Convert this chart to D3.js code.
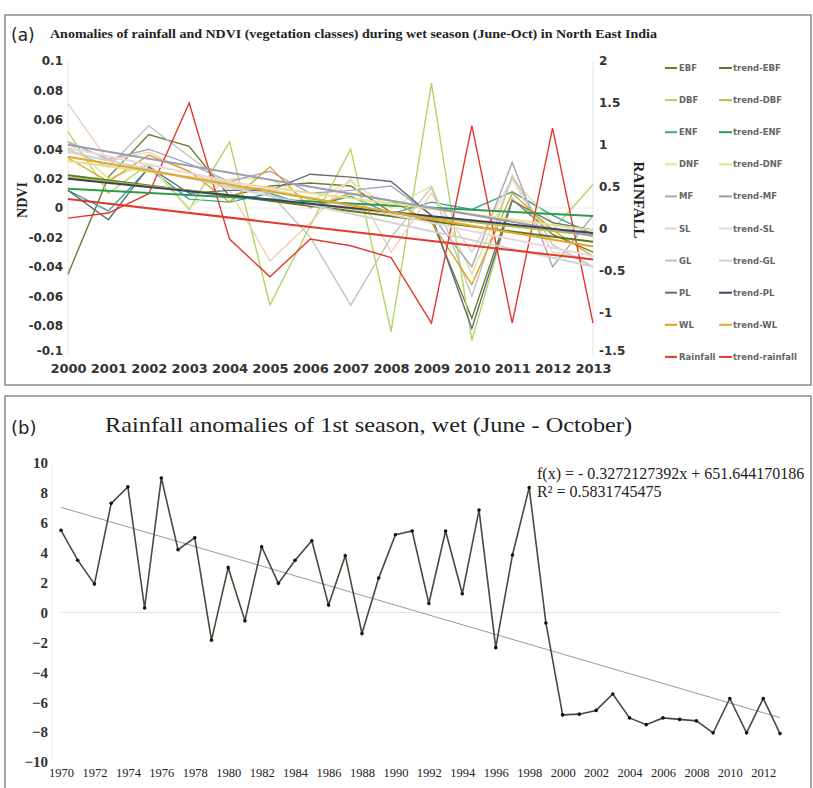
<!DOCTYPE html>
<html>
<head>
<meta charset="utf-8">
<script src="https://cdn.jsdelivr.net/npm/d3@7"></script>
<style>
  html, body { margin: 0; padding: 0; background: #fff; }
  svg { display: block; }
</style>
</head>
<body>
<svg id="chart" width="813" height="788"></svg>
<script>
// ---------- Panel (a) data ----------
const yearsA = [2000,2001,2002,2003,2004,2005,2006,2007,2008,2009,2010,2011,2012,2013];
const classNames = ["EBF","DBF","ENF","DNF","MF","SL","GL","PL","WL"];
const EBF = [-0.045, 0.021, 0.050, 0.042, 0.008, 0.015, 0.017, 0.015, -0.003, -0.008, -0.075, 0.006, -0.018, -0.030];
const DBF = [0.052, 0.010, 0.030, -0.001, 0.045, -0.066, -0.012, 0.040, -0.084, 0.085, -0.090, 0.006, -0.015, 0.016];
const ENF = [0.012, -0.002, 0.027, 0.006, 0.004, 0.010, 0.001, 0.008, -0.004, 0.004, -0.001, 0.011, -0.005, -0.018];
const DNF = [0.045, 0.020, 0.030, 0.000, 0.020, 0.020, 0.005, 0.018, 0.000, 0.015, -0.045, 0.020, -0.010, -0.020];
const MF  = [0.045, 0.033, 0.040, 0.030, 0.018, 0.025, 0.010, 0.012, 0.015, -0.005, -0.040, 0.031, -0.040, -0.005];
const SL  = [0.071, 0.032, 0.038, 0.025, 0.012, -0.036, -0.010, 0.020, -0.030, 0.010, -0.030, 0.020, -0.030, -0.035];
const GL  = [0.040, 0.028, 0.056, 0.035, 0.015, 0.010, -0.020, -0.066, -0.020, 0.014, -0.060, 0.022, -0.025, -0.040];
const PL  = [0.012, -0.008, 0.028, 0.010, 0.012, 0.012, 0.023, 0.021, 0.018, -0.005, -0.082, 0.005, -0.010, -0.015];
const WL  = [0.034, 0.018, 0.036, 0.025, 0.004, 0.028, 0.000, 0.010, 0.005, -0.010, -0.052, 0.010, -0.015, -0.033];
const Rainfall = [0.13, 0.19, 0.42, 1.50, -0.12, -0.57, -0.12, -0.20, -0.34, -1.12, 1.23, -1.12, 1.20, -1.12];
const ndviTicks = [0.1,0.08,0.06,0.04,0.02,0,-0.02,-0.04,-0.06,-0.08,-0.1];
const ndviTickLabels = ["0.1","0.08","0.06","0.04","0.02","0","-0.02","-0.04","-0.06","-0.08","-0.1"];
const rainTicks = [2,1.5,1,0.5,0,-0.5,-1,-1.5];
const rainTickLabels = ["2","1.5","1","0.5","0","-0.5","-1","-1.5"];

// ---------- Panel (b) data ----------
const yearsB = d3.range(1970, 2014);
const rainAnom = [5.5, 3.5, 1.9, 7.3, 8.4, 0.3, 9.0, 4.2, 5.0, -1.85, 3.0, -0.55, 4.4, 1.95,
  3.5, 4.8, 0.5, 3.8, -1.4, 2.3, 5.2, 5.45, 0.6, 5.45, 1.25, 6.85, -2.35, 3.85, 8.35, -0.7,
  -6.85, -6.8, -6.55, -5.45, -7.05, -7.5, -7.05, -7.15, -7.25, -8.05, -5.75, -8.05, -5.75, -8.1];
const fitSlope = -0.3272127392, fitIntercept = 651.644170186;
const bYTicks = [10,8,6,4,2,0,-2,-4,-6,-8,-10];
const bXTicks = d3.range(1970, 2013, 2);

const svg = d3.select("#chart");

// panel borders
svg.append("rect").attr("x",5).attr("y",15).attr("width",806).attr("height",370)
  .attr("fill","#fff").attr("stroke","#8a8a8a").attr("stroke-width",1.5);
svg.append("rect").attr("x",5).attr("y",396).attr("width",806).attr("height",400)
  .attr("fill","#fff").attr("stroke","#8a8a8a").attr("stroke-width",1.5);

// ================= Panel (a) =================
const xA = d3.scaleLinear().domain([2000,2013]).range([68,593]);
const yA = d3.scaleLinear().domain([-0.1,0.1]).range([355,61]);
const yR = d3.scaleLinear().domain([-1.5,2]).range([355,61]);

svg.append("text").attr("x",11).attr("y",41).attr("font-family","DejaVu Sans, sans-serif")
  .attr("font-size",17).attr("fill","#222").text("(a)");
svg.append("text").attr("x",50).attr("y",38).attr("font-family","Liberation Serif, serif")
  .attr("font-weight","bold").attr("font-size",12.5).attr("fill","#222")
  .attr("textLength",607).attr("lengthAdjust","spacingAndGlyphs")
  .text("Anomalies of rainfall and NDVI (vegetation classes) during wet season (June-Oct) in North East India");

const gA = svg.append("g");
gA.append("line").attr("x1",xA(2000)).attr("x2",xA(2000)).attr("y1",yA(0.1)).attr("y2",yA(-0.1))
  .attr("stroke","#e4e4e4").attr("stroke-width",1);
gA.append("line").attr("x1",xA(2013)).attr("x2",xA(2013)).attr("y1",yA(0.1)).attr("y2",yA(-0.1))
  .attr("stroke","#e4e4e4").attr("stroke-width",1);
gA.append("line").attr("x1",xA(2000)).attr("x2",xA(2013)).attr("y1",yA(0)).attr("y2",yA(0))
  .attr("stroke","#ececec").attr("stroke-width",1);

const leftAxis = d3.axisLeft(yA).tickValues(ndviTicks).tickSize(0).tickPadding(5)
  .tickFormat((d,i) => ndviTickLabels[i]);
const gl = gA.append("g").attr("transform",`translate(${xA(2000)},0)`).call(leftAxis);
gl.select(".domain").remove();
gl.selectAll("text").attr("font-family","DejaVu Sans, sans-serif").attr("font-weight","bold")
  .attr("font-size",12).attr("fill","#333");
gl.selectAll(".tick").filter(d => d === -0.1).select("text").attr("dy","-0.05em");
const rightAxis = d3.axisRight(yR).tickValues(rainTicks).tickSize(0).tickPadding(6)
  .tickFormat((d,i) => rainTickLabels[i]);
const gr = gA.append("g").attr("transform",`translate(${xA(2013)},0)`).call(rightAxis);
gr.select(".domain").remove();
gr.selectAll("text").attr("font-family","DejaVu Sans, sans-serif").attr("font-weight","bold")
  .attr("font-size",12).attr("fill","#333");
gr.selectAll(".tick").filter(d => d === -1.5).select("text").attr("dy","-0.05em");
const botAxis = d3.axisBottom(xA).tickValues(yearsA).tickSize(0).tickPadding(9).tickFormat(d3.format("d"));
const gb = gA.append("g").attr("transform",`translate(0,${yA(-0.1)})`).call(botAxis);
gb.select(".domain").remove();
gb.selectAll("text").attr("font-family","DejaVu Sans, sans-serif").attr("font-weight","bold")
  .attr("font-size",13).attr("fill","#333");

svg.append("text").attr("transform",`translate(27,${yA(0)-8}) rotate(-90)`).attr("text-anchor","middle")
  .attr("font-family","Liberation Serif, serif").attr("font-weight","bold").attr("font-size",14)
  .attr("fill","#222").text("NDVI");
svg.append("text").attr("transform",`translate(634,200) rotate(90)`).attr("text-anchor","middle")
  .attr("font-family","Liberation Serif, serif").attr("font-weight","bold").attr("font-size",15)
  .attr("fill","#222").text("RAINFALL");

const series = [
  {name:"EBF", vals:EBF, color:"#6b7d33", tcolor:"#5a7a22", scale:yA},
  {name:"DBF", vals:DBF, color:"#b2d466", tcolor:"#b9bf45", scale:yA},
  {name:"ENF", vals:ENF, color:"#3aa39c", tcolor:"#2f9a4e", scale:yA},
  {name:"DNF", vals:DNF, color:"#dbe79a", tcolor:"#e6e08c", scale:yA},
  {name:"MF",  vals:MF,  color:"#a8a4c0", tcolor:"#9c9cb2", scale:yA},
  {name:"SL",  vals:SL,  color:"#f2cfb4", tcolor:"#e8d8d8", scale:yA},
  {name:"GL",  vals:GL,  color:"#c2c2c2", tcolor:"#d2d2d2", scale:yA},
  {name:"PL",  vals:PL,  color:"#646b7d", tcolor:"#3b4262", scale:yA},
  {name:"WL",  vals:WL,  color:"#d9a420", tcolor:"#e2a82a", scale:yA},
  {name:"Rainfall", vals:Rainfall, color:"#e0392d", tcolor:"#e03a2c", scale:yR}
];

function linFit(xs, ys) {
  const mx = d3.mean(xs), my = d3.mean(ys);
  let sxy = 0, sxx = 0;
  xs.forEach((x,i) => { sxy += (x-mx)*(ys[i]-my); sxx += (x-mx)*(x-mx); });
  const b = sxy/sxx; return {b, a: my - b*mx};
}

const plotA = gA.append("g");
series.forEach(s => {
  const line = d3.line().x((d,i) => xA(yearsA[i])).y(d => s.scale(d));
  plotA.append("path").datum(s.vals).attr("d", line).attr("fill","none")
    .attr("stroke", s.color).attr("stroke-width",1.4).attr("stroke-linejoin","miter");
});
series.forEach(s => {
  const f = linFit(yearsA, s.vals);
  const ends = [2000, 2013];
  plotA.append("path").datum(ends)
    .attr("d", d3.line().x(d => xA(d)).y(d => s.scale(f.a + f.b*d)))
    .attr("fill","none").attr("stroke", s.tcolor).attr("stroke-width",2);
});

const leg = svg.append("g");
series.forEach((s,i) => {
  const y = 68 + i*32.1;
  leg.append("line").attr("x1",665).attr("x2",677).attr("y1",y).attr("y2",y)
    .attr("stroke",s.color).attr("stroke-width",2);
  leg.append("text").attr("x",679).attr("y",y+3).attr("font-family","DejaVu Sans, sans-serif")
    .attr("font-weight","bold").attr("font-size",8.5).attr("fill","#666").text(s.name);
  leg.append("line").attr("x1",719).attr("x2",732).attr("y1",y).attr("y2",y)
    .attr("stroke",s.tcolor).attr("stroke-width",2);
  leg.append("text").attr("x",733).attr("y",y+3).attr("font-family","DejaVu Sans, sans-serif")
    .attr("font-weight","bold").attr("font-size",8.5).attr("fill","#666")
    .text("trend-" + (s.name === "Rainfall" ? "rainfall" : s.name));
});

// ================= Panel (b) =================
const xB = d3.scaleLinear().domain([1970,2013]).range([61,780]);
const yB = d3.scaleLinear().domain([-10,10]).range([762,463]);

svg.append("text").attr("x",11).attr("y",434).attr("font-family","DejaVu Sans, sans-serif")
  .attr("font-size",18).attr("fill","#222").text("(b)");
svg.append("text").attr("x",105).attr("y",432).attr("font-family","Liberation Serif, serif")
  .attr("font-size",22).attr("fill","#222")
  .attr("textLength",527).attr("lengthAdjust","spacingAndGlyphs")
  .text("Rainfall anomalies of 1st season, wet (June - October)");

const gB = svg.append("g");
gB.append("line").attr("x1",52).attr("x2",52).attr("y1",yB(10)).attr("y2",yB(-10))
  .attr("stroke","#eeeeee");
gB.append("line").attr("x1",xB(1970)).attr("x2",xB(2013)).attr("y1",yB(0)).attr("y2",yB(0))
  .attr("stroke","#e2e2e2").attr("stroke-width",1);

const bl = gB.append("g").attr("transform","translate(50,0)")
  .call(d3.axisLeft(yB).tickValues(bYTicks).tickSize(0).tickPadding(2).tickFormat(d3.format("d")));
bl.select(".domain").remove();
bl.selectAll("text").attr("font-family","Liberation Serif, serif").attr("font-weight","bold")
  .attr("font-size",15).attr("fill","#333");
const bb = gB.append("g").attr("transform",`translate(0,${yB(-10)})`)
  .call(d3.axisBottom(xB).tickValues(bXTicks).tickSize(0).tickPadding(6).tickFormat(d3.format("d")));
bb.select(".domain").remove();
bb.selectAll("text").attr("font-family","Liberation Serif, serif")
  .attr("font-size",12.5).attr("fill","#222");

gB.append("path").datum([1970, 2013])
  .attr("d", d3.line().x(d => xB(d)).y(d => yB(fitSlope*d + fitIntercept)))
  .attr("fill","none").attr("stroke","#9a9a9a").attr("stroke-width",1);

gB.append("path").datum(rainAnom)
  .attr("d", d3.line().x((d,i) => xB(yearsB[i])).y(d => yB(d)))
  .attr("fill","none").attr("stroke","#4a4a3c").attr("stroke-width",1.6);
gB.selectAll("circle.pt").data(rainAnom).enter().append("circle")
  .attr("cx",(d,i) => xB(yearsB[i])).attr("cy", d => yB(d)).attr("r",1.8).attr("fill","#111");

svg.append("text").attr("x",537).attr("y",479).attr("font-family","Liberation Serif, serif")
  .attr("font-size",16).attr("fill","#222").text("f(x) =  - 0.3272127392x + 651.644170186");
svg.append("text").attr("x",537).attr("y",497).attr("font-family","Liberation Serif, serif")
  .attr("font-size",16).attr("fill","#222").text("R² = 0.5831745475");
</script>
</body>
</html>
